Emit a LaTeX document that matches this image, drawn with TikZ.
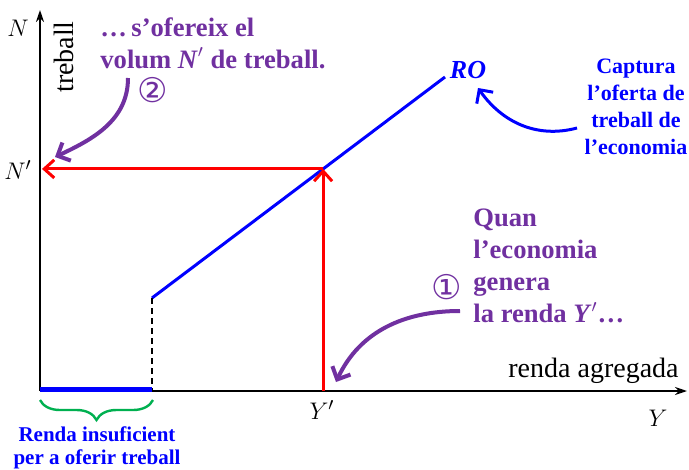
\documentclass[tikz,border=0pt]{standalone}
\usepackage{fontspec}
\usepackage{amsmath,bm}
\setmainfont{Liberation Serif}
\newfontfamily\circfont{DejaVu Sans}
\usepackage{xcolor}
\usetikzlibrary{arrows.meta, positioning, calc, decorations.pathreplacing}
\definecolor{lila}{RGB}{112,48,160}
\definecolor{verd}{RGB}{0,176,80}

\begin{document}
\begin{tikzpicture}[x=0.5pt, y=-0.5pt, >=Stealth,
            axis/.style={draw, line width=1.2pt, -{Stealth[length=6pt, width=4pt]}},
            guide/.style={draw=red, line width=1.5pt, -{Straight Barb[length=5pt, width=9pt]}},
            note/.style={line width=2pt, -{Straight Barb[length=5pt, width=10pt]}},
            lilatext/.style={text=lila, font=\fontsize{13.3}{16}\selectfont\bfseries, align=left, inner sep=0pt},
            bluetext/.style={text=blue, font=\fontsize{11}{13.5}\selectfont\bfseries, align=center, inner sep=0pt},
            mathlbl/.style={font=\fontsize{12.5}{12.5}\selectfont, inner sep=0pt},
            circnum/.style={text=lila, font=\fontsize{17}{17}\selectfont\circfont, inner sep=0pt}]

            \useasboundingbox (0,0) rectangle (689,470);

            % axes
            \coordinate (O) at (40,391);
            \coordinate (Ymax) at (687,391);
            \coordinate (Nmax) at (40,10);
            \draw[axis] (O) -- (Ymax);
            \draw[axis] (O) -- (Nmax);

            \node[mathlbl] (Nlab) at (18,28) {$N$};
            \node[rotate=90, inner sep=0pt, font=\fontsize{14}{14}\selectfont] (treball) at (64,57) {treball};
            \node[mathlbl] (Ylab) at (658,418) {$Y$};
            \node[anchor=east, inner sep=0pt, font=\fontsize{14}{14}\selectfont] (renda) at (679,371) {renda agregada};

            % supply curve RO
            \coordinate (kink) at (152,298);
            \coordinate (kinkb) at (152,391);
            \coordinate (ROend) at (445,77);
            \coordinate (E) at ($(kink)!0.584!(ROend)$);
            \coordinate (Yp) at (E |- O);
            \draw[blue, line width=1.5pt] (kink) -- (ROend);
            \draw[dash pattern=on 3pt off 2pt, line width=1pt] (kink) -- (kinkb);
            \draw[blue, line width=2.5pt] ([yshift=1pt]O) -- ([yshift=1pt]kinkb);
            \node[text=blue, inner sep=0pt, font=\fontsize{13}{13}\selectfont\bfseries\itshape] (RO) at (468,70) {RO};

            % Y' -> N'
            \draw[guide] (Yp) -- (E);
            \draw[guide] (E) -- ([xshift=1pt]E -| O);
            \node[mathlbl] (Yplab) at (322,410) {$Y'$};
            \node[mathlbl] (Nplab) at (18,170) {$N'$};

            % brace
            \draw[verd, line width=1.2pt, decorate, decoration={brace, mirror, amplitude=10pt}]
                (40,400) -- (153,400);
            \node[bluetext, font=\fontsize{10.5}{11.5}\selectfont\bfseries] (insuf) at (97,448) {Renda insuficient\\per a oferir treball};

            % notes
            \node[bluetext] (captura) at (636,107) {Captura\\l’oferta de\\treball de\\l’economia};
            \coordinate (c0) at (577,128);
            \coordinate (c1) at (478,88);
            \draw[note, blue, line width=1.5pt] (c0) to[out=195, in=-55] (c1);

            \node[lilatext, anchor=west] (quan) at (473,266) {Quan\\l’economia\\genera\\la renda \textit{Y}${}'$\dots};
            \node[circnum] (one) at (447,287) {①};
            \coordinate (q0) at (460,311);
            \coordinate (q1) at (336,382);
            \draw[note, lila] (q0) to[out=180, in=65] (q1);

            \node[lilatext, anchor=west] (ofer) at (100,43) {\dots\,s’ofereix el\\volum \textit{N}${}'$ de treball.};
            \node[circnum] (two) at (153,90) {②};
            \coordinate (s0) at (128,78);
            \coordinate (s1) at (55,157);
            \draw[note, lila] (s0) to[out=-90, in=25] (s1);
        \end{tikzpicture}
\end{document}
